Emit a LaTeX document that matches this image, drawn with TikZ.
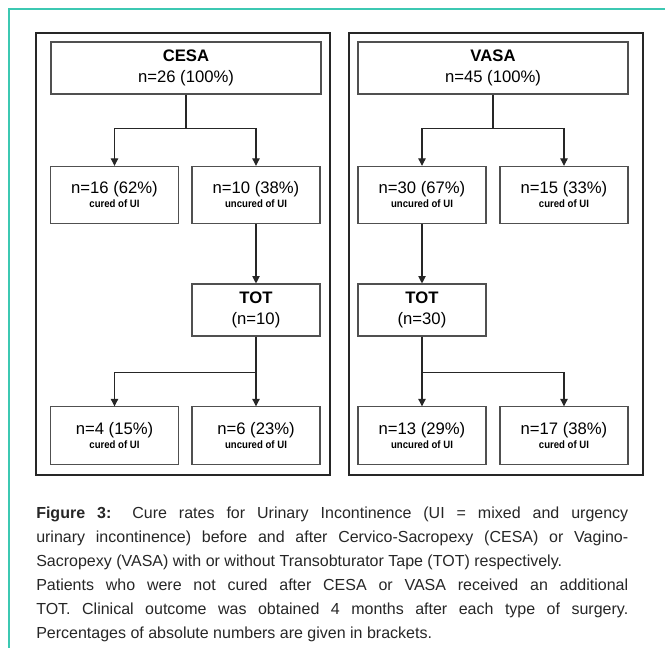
\documentclass[tikz,border=0pt]{standalone}
\usepackage{fontspec}
\setmainfont{Liberation Sans}
\newfontfamily\narrowfont[FakeStretch=0.9]{Liberation Sans}
\usetikzlibrary{arrows.meta}

\definecolor{frameteal}{RGB}{60,200,178}
\definecolor{boxgray}{RGB}{80,80,80}

\newcommand{\subtxt}[1]{{\narrowfont\bfseries\fontsize{8}{9}\selectfont #1}}

\begin{document}
\begin{tikzpicture}[x=0.75pt,y=-0.75pt,
  box/.style={draw=boxgray, line width=0.8pt, minimum width=96pt, minimum height=43pt,
    align=center, inner sep=0pt, font=\fontsize{12.5}{14.5}\selectfont},
  topbox/.style={box, minimum width=202.5pt, minimum height=39pt},
  totbox/.style={box, minimum height=39pt},
  panel/.style={draw=black!85, line width=1.6pt},
  arr/.style={draw=black!85, line width=0.8pt, -{Triangle[length=5.5pt,width=5.5pt]}}]

\useasboundingbox (0,0) rectangle (665,648);
\draw [frameteal, line width=0.9pt] (665,9) -- (9,9) -- (9,648);

\draw [panel] (36,33) rectangle (330,475);
\draw [panel] (349,33) rectangle (643,475);

% left panel
\node [topbox] (cesa) at (186,68) {\textbf{CESA}\\[1pt]n=26 (100\%)};
\node [box] (c16) at (114.5,195) {n=16 (62\%)\\[-4pt]\subtxt{cured of UI}};
\node [box] (c10) at (256,195) {n=10 (38\%)\\[-4pt]\subtxt{uncured of UI}};
\node [totbox] (ctot) at (256,310) {\textbf{TOT}\\[1pt](n=10)};
\node [box] (c4) at (114.5,435.5) {n=4 (15\%)\\[-4pt]\subtxt{cured of UI}};
\node [box] (c6) at (256,435.5) {n=6 (23\%)\\[-4pt]\subtxt{uncured of UI}};

\draw [arr] (cesa.south) -- ++(0,34) -| (c16.north);
\draw [arr] (cesa.south) -- ++(0,34) -| (c10.north);
\draw [arr] (c10) -- (ctot);
\draw [arr] (ctot.south) -- ++(0,36) -| (c4.north);
\draw [arr] (ctot) -- (c6);

% right panel
\node [topbox] (vasa) at (493,68) {\textbf{VASA}\\[1pt]n=45 (100\%)};
\node [box] (v30) at (422,195) {n=30 (67\%)\\[-4pt]\subtxt{uncured of UI}};
\node [box] (v15) at (564,195) {n=15 (33\%)\\[-4pt]\subtxt{cured of UI}};
\node [totbox] (vtot) at (422,310) {\textbf{TOT}\\[1pt](n=30)};
\node [box] (v13) at (422,435.5) {n=13 (29\%)\\[-4pt]\subtxt{uncured of UI}};
\node [box] (v17) at (564,435.5) {n=17 (38\%)\\[-4pt]\subtxt{cured of UI}};

\draw [arr] (vasa.south) -- ++(0,34) -| (v30.north);
\draw [arr] (vasa.south) -- ++(0,34) -| (v15.north);
\draw [arr] (v30) -- (vtot);
\draw [arr] (vtot) -- (v13);
\draw [arr] (vtot.south) -- ++(0,36) -| (v17.north);

% caption
\node [anchor=north west, inner sep=0pt, text width=444pt, align=justify, text=black!85,
  font={\fontsize{12}{18}\selectfont\tolerance=10000\hyphenpenalty=10000}] (caption) at (36,507)
  {\textbf{Figure 3:} Cure rates for Urinary Incontinence (UI = mixed and urgency\linebreak
  urinary incontinence) before and after Cervico-Sacropexy (CESA) or Vagino-\linebreak
  Sacropexy (VASA) with or without Transobturator Tape (TOT) respectively.\\
  Patients who were not cured after CESA or VASA received an additional\linebreak
  TOT. Clinical outcome was obtained 4 months after each type of surgery.\linebreak
  Percentages of absolute numbers are given in brackets.};
\end{tikzpicture}
\end{document}
